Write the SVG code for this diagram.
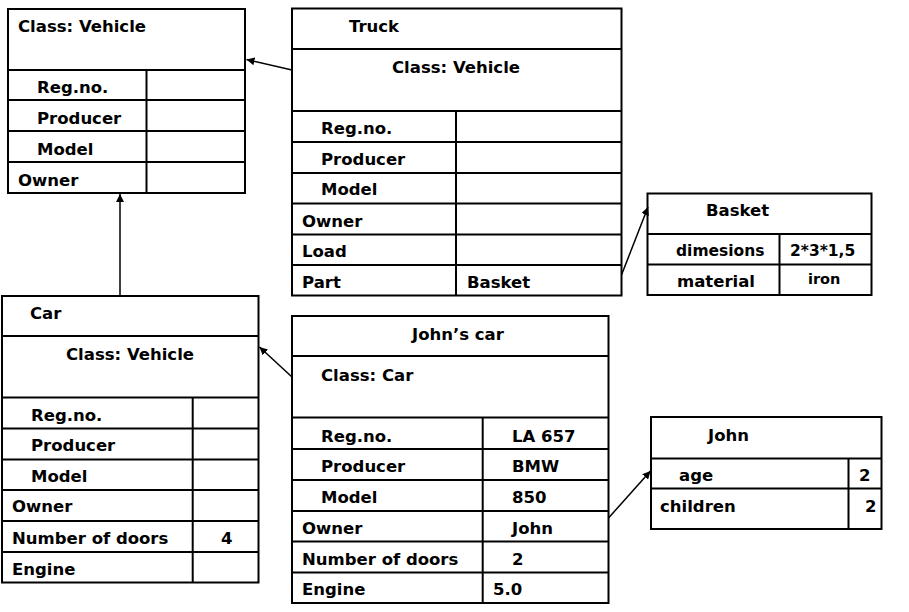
<svg xmlns="http://www.w3.org/2000/svg" width="909" height="612" viewBox="0 0 909 612">
<style>
.b{fill:none;stroke:#000;stroke-width:2}
.l{stroke:#000;stroke-width:2}
text{font-family:"DejaVu Sans","Verdana",sans-serif;font-weight:bold;font-size:16.5px;fill:#000}
.s{font-size:15.5px}
.xs{font-size:14.5px}
.c{fill:none;stroke:#000;stroke-width:1.5}
</style>
<defs>
<marker id="a" viewBox="0 0 10 10" refX="10" refY="5" markerWidth="8" markerHeight="8" markerUnits="userSpaceOnUse" orient="auto">
<path d="M0,0 L10,5 L0,10 z" fill="#000"/>
</marker>
</defs>
<g id="vehicle">
<rect class="b" x="8" y="9" width="237" height="184"/>
<path class="l" d="M8,70H245M8,100H245M8,131H245M8,162H245M146.5,70V193"/>
<text x="18" y="32">Class: Vehicle</text>
<text x="37" y="93">Reg.no.</text>
<text x="37" y="124">Producer</text>
<text x="37" y="155">Model</text>
<text x="18" y="186">Owner</text>
</g>
<g id="truck">
<rect class="b" x="292" y="8.5" width="329.5" height="287"/>
<path class="l" d="M292,49H621.5M292,111H621.5M292,142H621.5M292,173H621.5M292,203.5H621.5M292,234.5H621.5M292,265H621.5M456,111V295.5"/>
<text x="349" y="32">Truck</text>
<text x="392" y="73">Class: Vehicle</text>
<text x="321" y="134">Reg.no.</text>
<text x="321" y="165">Producer</text>
<text x="321" y="195">Model</text>
<text x="302" y="227">Owner</text>
<text x="302" y="257">Load</text>
<text x="302" y="288">Part</text>
<text x="467" y="288">Basket</text>
</g>
<g id="basket">
<rect class="b" x="647.5" y="193.5" width="224" height="101.5"/>
<path class="l" d="M647.5,234H871.5M647.5,264.5H871.5M779.5,234V295"/>
<text x="706" y="216">Basket</text>
<text class="s" x="676" y="256">dimesions</text>
<text class="s" x="790" y="256">2*3*1,5</text>
<text x="677" y="287">material</text>
<text class="xs" x="808" y="284">iron</text>
</g>
<g id="car">
<rect class="b" x="2" y="296" width="256.5" height="286.5"/>
<path class="l" d="M2,336H258.5M2,397.5H258.5M2,428.5H258.5M2,459.5H258.5M2,490H258.5M2,521H258.5M2,552H258.5M192.7,397.5V582.5"/>
<text x="30" y="319">Car</text>
<text x="66" y="360">Class: Vehicle</text>
<text x="31" y="421">Reg.no.</text>
<text x="31" y="451">Producer</text>
<text x="31" y="482">Model</text>
<text x="12" y="512">Owner</text>
<text x="12" y="544">Number of doors</text>
<text x="221" y="544">4</text>
<text x="12" y="575">Engine</text>
</g>
<g id="johnscar">
<rect class="b" x="292" y="316" width="316.5" height="287"/>
<path class="l" d="M292,356H608.5M292,417.5H608.5M292,449H608.5M292,480H608.5M292,511H608.5M292,541.5H608.5M292,572.5H608.5M482.7,417.5V603"/>
<text x="412" y="340">John’s car</text>
<text x="321" y="381">Class: Car</text>
<text x="321" y="442">Reg.no.</text>
<text x="512" y="442">LA 657</text>
<text x="321" y="472">Producer</text>
<text x="512" y="472">BMW</text>
<text x="321" y="503">Model</text>
<text x="512" y="503">850</text>
<text x="302" y="534">Owner</text>
<text x="512" y="534">John</text>
<text x="302" y="565">Number of doors</text>
<text x="512" y="565">2</text>
<text x="302" y="595">Engine</text>
<text x="493" y="595">5.0</text>
</g>
<g id="john">
<rect class="b" x="651" y="417" width="230.5" height="112"/>
<path class="l" d="M651,458.5H881.5M651,488.5H881.5M848.5,458.5V529"/>
<text x="708" y="441">John</text>
<text x="679" y="481">age</text>
<text x="859" y="481">2</text>
<text x="660" y="512">children</text>
<text x="865" y="512">2</text>
</g>
<g id="connectors">
<line class="c" x1="292" y1="70" x2="246.5" y2="59.5" marker-end="url(#a)"/>
<line class="c" x1="120" y1="296" x2="120" y2="194" marker-end="url(#a)"/>
<line class="c" x1="292" y1="377" x2="259.5" y2="347" marker-end="url(#a)"/>
<line class="c" x1="621.5" y1="275" x2="648" y2="207" marker-end="url(#a)"/>
<line class="c" x1="608.5" y1="518" x2="650.5" y2="471" marker-end="url(#a)"/>
</g>
</svg>
